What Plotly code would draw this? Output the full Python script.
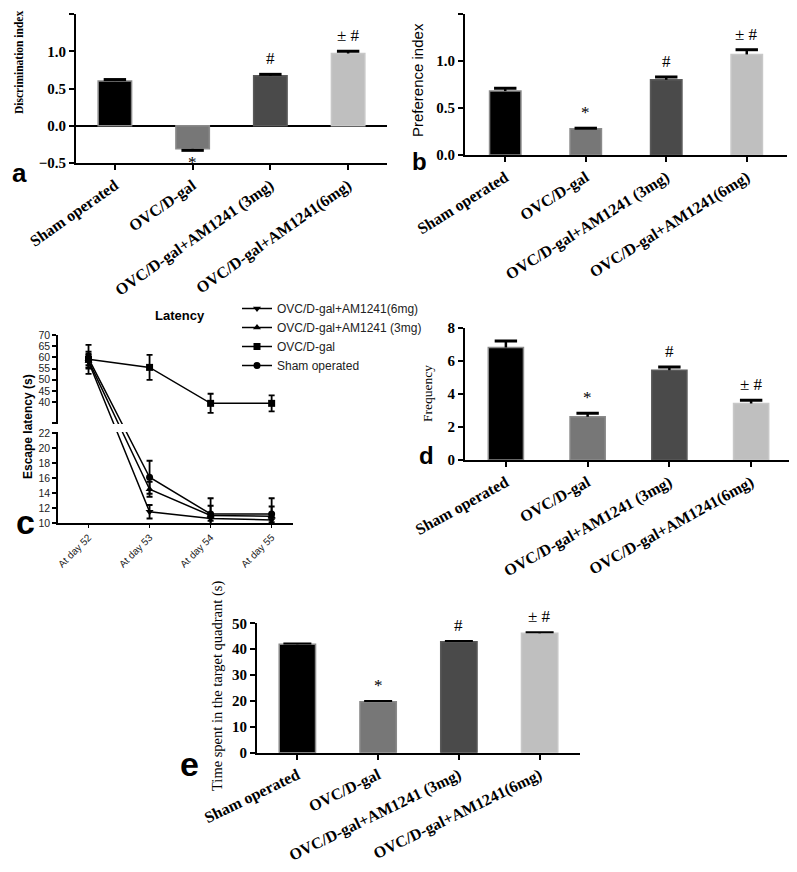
import plotly.graph_objects as go

# the page body adds an 8px margin; all positions below are page pixels
OFF = 8
W, H = 797 - OFF, 872 - OFF

def fx(p):
    return (p - OFF) / W

def fy(p):
    return 1 - (p - OFF) / H

# ---------------- data ----------------
groups = ["Sham operated", "OVC/D-gal", "OVC/D-gal+AM1241 (3mg)", "OVC/D-gal+AM1241(6mg)"]
bar_colors = ["#000000", "#777777", "#4a4a4a", "#bfbfbf"]
bar_edges = ["#8a8a8a", "#8a8a8a", "#5a5a5a", "#c8c8c8"]
sig_marks = ["", "*", "#", "± #"]

disc_mean = [0.60, -0.31, 0.67, 0.97]
disc_err = [0.02, 0.02, 0.02, 0.03]

pref_mean = [0.68, 0.28, 0.80, 1.07]
pref_err = [0.03, 0.005, 0.03, 0.05]

freq_mean = [6.80, 2.62, 5.42, 3.42]
freq_err = [0.40, 0.20, 0.20, 0.20]

time_mean = [41.9, 19.7, 42.9, 46.2]
time_err = [0.3, 0.3, 0.3, 0.3]

days = ["At day 52", "At day 53", "At day 54", "At day 55"]
lat_6mg = [58.0, 11.5, 10.6, 10.4]
lat_6mg_err = [3.0, 0.9, 0.3, 0.3]
lat_3mg = [58.5, 14.5, 11.0, 10.9]
lat_3mg_err = [3.0, 1.0, 1.3, 1.3]
lat_ovc = [59.1, 55.5, 39.4, 39.4]
lat_ovc_err = [6.5, 5.6, 4.3, 3.6]
lat_sham = [59.5, 16.1, 11.2, 11.2]
lat_sham_err = [3.0, 2.2, 2.1, 2.1]
lat_names = ["OVC/D-gal+AM1241(6mg)", "OVC/D-gal+AM1241 (3mg)", "OVC/D-gal", "Sham operated"]
lat_symbols = ["triangle-down", "triangle-up", "square", "circle"]

# broken y-axis of the latency panel
low_ticks = [10, 12, 14, 16, 18, 20, 22]
high_ticks = [40, 45, 50, 55, 60, 65, 70]
LOW_MIN, LOW_MAX = 10, 22
HIGH_MIN, HIGH_MAX = 30.6, 70

fig = go.Figure()

SERIF = "Liberation Serif"
SANS = "Liberation Sans"


def bar_panel(xa, ya, means, errs, bar_width, cap_size, cap_w, ann_size=17):
    xr = "x" if xa == 1 else "x%d" % xa
    yr = "y" if ya == 1 else "y%d" % ya
    fig.add_trace(go.Bar(
        x=groups, y=means, xaxis=xr, yaxis=yr, width=bar_width,
        marker=dict(color=bar_colors, line=dict(color=bar_edges, width=1.5)),
        showlegend=False, hoverinfo="skip"))
    sx, sy, tips = [], [], []
    for g, m, e in zip(groups, means, errs):
        tip = m + e if m >= 0 else m - e
        sx += [g, g, None]
        sy += [m, tip, None]
        tips.append(tip)
    fig.add_trace(go.Scatter(x=sx, y=sy, xaxis=xr, yaxis=yr, mode="lines",
                             line=dict(color="black", width=2.5),
                             showlegend=False, hoverinfo="skip"))
    fig.add_trace(go.Scatter(x=groups, y=tips, xaxis=xr, yaxis=yr, mode="markers",
                             marker=dict(symbol="line-ew", size=cap_size,
                                         line=dict(color="black", width=cap_w)),
                             showlegend=False, hoverinfo="skip"))
    anns = []
    for g, m, t, s in zip(groups, means, tips, sig_marks):
        if not s:
            continue
        anns.append(dict(x=g, y=t, xref=xr, yref=yr, text=s, showarrow=False,
                         yanchor="bottom" if m >= 0 else "top",
                         yshift=4 if m >= 0 else -1,
                         font=dict(family=SERIF, size=ann_size, color="#000000")))
    return anns


annotations = []
annotations += bar_panel(1, 1, disc_mean, disc_err, 0.43, 16, 3)
annotations += bar_panel(2, 2, pref_mean, pref_err, 0.39, 16, 3)
annotations += bar_panel(5, 5, freq_mean, freq_err, 0.43, 16, 3)
annotations += bar_panel(6, 6, time_mean, time_err, 0.45, 20, 2)

# ---------------- latency panel: one axis with a broken (two-segment) scale ----------------
C_TOP, C_BREAK_HI, C_BREAK_LO, C_BOT = 335, 423, 433, 523  # panel pixel layout
low_px_per_unit = (C_BOT - C_BREAK_LO) / (LOW_MAX - LOW_MIN)
high_px_per_unit = (C_BREAK_HI - C_TOP) / (HIGH_MAX - HIGH_MIN)
ratio = high_px_per_unit / low_px_per_unit
gap_units = (C_BREAK_LO - C_BREAK_HI) / low_px_per_unit


def brk(v):
    if v <= LOW_MAX:
        return v
    return LOW_MAX + gap_units + (v - HIGH_MIN) * ratio


def brk_err(v, e):
    return e if v <= LOW_MAX else e * ratio


lat_vals = [lat_6mg, lat_3mg, lat_ovc, lat_sham]
lat_errs = [lat_6mg_err, lat_3mg_err, lat_ovc_err, lat_sham_err]
for name, sym, vals, errs in zip(lat_names, lat_symbols, lat_vals, lat_errs):
    fig.add_trace(go.Scatter(
        x=days, y=[brk(v) for v in vals], xaxis="x3", yaxis="y3", name=name,
        mode="lines+markers",
        line=dict(color="black", width=1.5),
        marker=dict(symbol=sym, size=7, color="black"),
        error_y=dict(type="data", array=[brk_err(v, e) for v, e in zip(vals, errs)],
                     visible=True, color="black", thickness=1.8, width=3),
        hoverinfo="skip"))

c_tickvals = [brk(v) for v in low_ticks] + [brk(HIGH_MIN)] + [brk(v) for v in high_ticks]
c_ticktext = [str(v) for v in low_ticks] + [""] + [str(v) for v in high_ticks]

# ---------------- layout ----------------
axis_line = dict(showline=True, linecolor="black", showgrid=False, zeroline=False,
                 ticks="outside", tickcolor="black", automargin=False)


def bar_x(angle):
    return dict(axis_line, type="category", linewidth=2, tickwidth=2, ticklen=5,
                tickangle=angle, range=[-0.5, 3.5],
                tickfont=dict(family=SERIF, size=16, color="black", weight="bold"))


bar_y_common = dict(axis_line, linewidth=2, tickwidth=2, ticklen=5,
                    tickfont=dict(family=SERIF, size=15, color="black", weight="bold"))

layout = dict(
    width=W, height=H, margin=dict(l=0, r=0, t=0, b=0, autoexpand=False),
    plot_bgcolor="white", paper_bgcolor="white",
    font=dict(family=SERIF, color="black"),
    # panel a
    xaxis=dict(bar_x(-35), domain=[fx(76), fx(387)], anchor="y"),
    yaxis=dict(bar_y_common, domain=[fy(163), fy(14)], anchor="x", range=[-0.5, 1.5],
               tickvals=[-0.5, 0, 0.5, 1.0, 1.5], tickformat=".1f",
               zeroline=True, zerolinecolor="black", zerolinewidth=2),
    # panel b
    xaxis2=dict(bar_x(-32), domain=[fx(465), fx(787)], anchor="y2"),
    yaxis2=dict(bar_y_common, domain=[fy(155), fy(14)], anchor="x2", range=[0, 1.5],
                tickvals=[0, 0.5, 1.0, 1.5], tickformat=".1f"),
    # panel c
    xaxis3=dict(axis_line, type="category", domain=[fx(58), fx(293)], anchor="y3",
                range=[-0.5, 3.35], linewidth=1.5, tickwidth=1, ticklen=3, tickangle=-45,
                tickfont=dict(family=SANS, size=10, color="#222")),
    yaxis3=dict(axis_line, domain=[fy(C_BOT), fy(C_TOP)], anchor="x3",
                range=[LOW_MIN, brk(HIGH_MAX)],
                tickvals=c_tickvals, ticktext=c_ticktext,
                linewidth=1.5, tickwidth=1.5, ticklen=4,
                tickfont=dict(family=SANS, size=10.5, color="#222")),
    # panel d
    xaxis5=dict(bar_x(-29), domain=[fx(465), fx(792)], anchor="y5"),
    yaxis5=dict(bar_y_common, domain=[fy(460), fy(327.7)], anchor="x5", range=[0, 8],
                tickvals=[0, 2, 4, 6, 8]),
    # panel e
    xaxis6=dict(bar_x(-26), domain=[fx(257), fx(580)], anchor="y6"),
    yaxis6=dict(bar_y_common, domain=[fy(752.7), fy(623.3)], anchor="x6", range=[0, 50],
                tickvals=[0, 10, 20, 30, 40, 50]),
    legend=dict(x=fx(237), y=fy(294), xanchor="left", yanchor="top",
                font=dict(family=SANS, size=12, color="#222"),
                bgcolor="rgba(0,0,0,0)", itemwidth=30, tracegroupgap=0),
    # white band that opens the axis break (axis line and curves) of panel c
    shapes=[dict(type="rect", xref="x3 domain", yref="y3",
                 x0=-0.03, x1=1.0, y0=brk(LOW_MAX) + 0.12, y1=brk(HIGH_MIN) - 0.12,
                 fillcolor="white", line=dict(width=0), layer="above")],
)
fig.update_layout(**layout)


def paper_text(x, y, text, size, family, bold=False, angle=0):
    return dict(x=fx(x), y=fy(y), xref="paper", yref="paper", text=("<b>%s</b>" % text) if bold else text,
                showarrow=False, textangle=angle, xanchor="center", yanchor="middle",
                font=dict(family=family, size=size, color="black"))


annotations += [
    paper_text(19, 63, "Discrimination index", 11.5, SERIF, bold=True, angle=-90),
    paper_text(417, 80, "Preference index", 15, SANS, angle=-90),
    paper_text(28, 427, "Escape latency (s)", 12, SANS, bold=True, angle=-90),
    paper_text(427, 393, "Frequency", 13.5, SERIF, angle=-90),
    paper_text(217, 686, "Time spent in the target quadrant (s)", 14.5, SERIF, angle=-90),
    paper_text(180, 316, "Latency", 13, SANS, bold=True),
    paper_text(19, 173, "a", 26, SANS, bold=True),
    paper_text(419, 161, "b", 24, SANS, bold=True),
    paper_text(25, 522, "c", 34, SANS, bold=True),
    paper_text(427, 455, "d", 24, SANS, bold=True),
    paper_text(189, 764, "e", 34, SANS, bold=True),
]
fig.update_layout(annotations=annotations)

fig.write_html("out.html")
